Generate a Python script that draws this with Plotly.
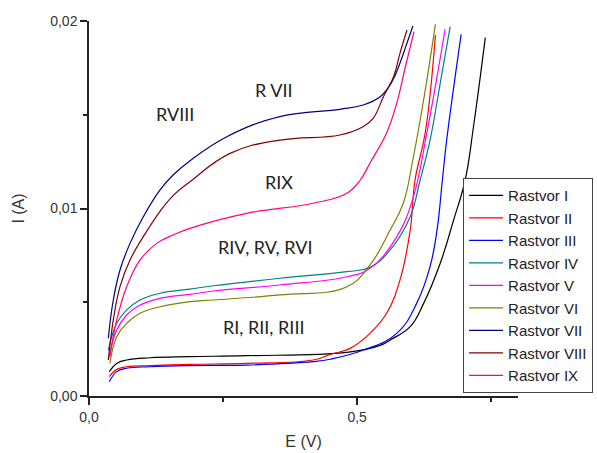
import plotly.graph_objects as go

# ---- data ----
E_I = [0.0379, 0.0517, 0.0703, 0.1138, 0.1884, 0.294, 0.481, 0.543, 0.5616, 0.599, 0.624, 0.655, 0.680, 0.7015, 0.717, 0.739]
I_I = [0.00130, 0.00174, 0.00192, 0.00204, 0.00210, 0.00215, 0.00233, 0.00270, 0.00299, 0.00370, 0.00494, 0.00708, 0.00939, 0.01152, 0.01436, 0.01911]

E_II = [0.0379, 0.0517, 0.0703, 0.1138, 0.1884, 0.294, 0.418, 0.450, 0.487, 0.524, 0.555, 0.580, 0.599, 0.608, 0.627, 0.646]
I_II = [0.00103, 0.00142, 0.00156, 0.00162, 0.00169, 0.00174, 0.00192, 0.00222, 0.00254, 0.00334, 0.00441, 0.00619, 0.00885, 0.01152, 0.01403, 0.01925]

E_III = [0.0379, 0.0517, 0.0703, 0.1138, 0.1884, 0.294, 0.418, 0.450, 0.512, 0.574, 0.611, 0.636, 0.649, 0.659, 0.667, 0.694]
I_III = [0.00076, 0.00130, 0.00148, 0.00156, 0.00162, 0.00165, 0.00183, 0.00196, 0.00245, 0.00334, 0.00494, 0.00690, 0.00885, 0.01152, 0.01365, 0.01929]

E_IV = [0.036, 0.0517, 0.0703, 0.0951, 0.1325, 0.1884, 0.232, 0.356, 0.481, 0.524, 0.5616, 0.599, 0.6175, 0.636, 0.655, 0.6735]
I_IV = [0.00245, 0.00388, 0.00459, 0.00512, 0.00548, 0.00570, 0.00588, 0.00628, 0.00663, 0.00686, 0.00779, 0.00956, 0.01152, 0.01365, 0.01669, 0.01970]

E_V = [0.036, 0.0517, 0.0703, 0.0951, 0.1325, 0.1884, 0.232, 0.356, 0.481, 0.524, 0.574, 0.605, 0.630, 0.649, 0.664]
I_V = [0.00192, 0.00352, 0.00432, 0.00485, 0.00521, 0.00542, 0.00560, 0.00592, 0.00636, 0.00681, 0.00850, 0.01063, 0.01403, 0.01703, 0.01956]

E_VI = [0.039, 0.0517, 0.0703, 0.0951, 0.1325, 0.1884, 0.232, 0.356, 0.481, 0.524, 0.5616, 0.586, 0.605, 0.624, 0.646]
I_VI = [0.00174, 0.00316, 0.00388, 0.00441, 0.00476, 0.00503, 0.00512, 0.00539, 0.00583, 0.00699, 0.00885, 0.01028, 0.01276, 0.01579, 0.01982]

E_VII = [0.036, 0.0453, 0.0578, 0.0765, 0.1013, 0.1325, 0.1573, 0.1884, 0.257, 0.356, 0.468, 0.511, 0.543, 0.565, 0.580, 0.593, 0.604]
I_VII = [0.00308, 0.00512, 0.00672, 0.00814, 0.00956, 0.01099, 0.01180, 0.01255, 0.01383, 0.01490, 0.01529, 0.01552, 0.01596, 0.01676, 0.01776, 0.01883, 0.01973]

E_VIII = [0.036, 0.0453, 0.0578, 0.0765, 0.1013, 0.1325, 0.1573, 0.1884, 0.263, 0.356, 0.468, 0.511, 0.530, 0.549, 0.568, 0.580, 0.593]
I_VIII = [0.00192, 0.00405, 0.00583, 0.00725, 0.00850, 0.00985, 0.01070, 0.01143, 0.01294, 0.01365, 0.01392, 0.01436, 0.01481, 0.01596, 0.01703, 0.01829, 0.01952]

E_IX = [0.039, 0.0517, 0.0703, 0.0951, 0.1263, 0.1573, 0.1884, 0.294, 0.418, 0.481, 0.506, 0.524, 0.555, 0.574, 0.590, 0.606]
I_IX = [0.00210, 0.00405, 0.00583, 0.00725, 0.00814, 0.00859, 0.00894, 0.00974, 0.01028, 0.01081, 0.01152, 0.01243, 0.01403, 0.01563, 0.01756, 0.01943]

series_names = ["Rastvor I", "Rastvor II", "Rastvor III", "Rastvor IV", "Rastvor V",
                "Rastvor VI", "Rastvor VII", "Rastvor VIII", "Rastvor IX"]
series_E = [E_I, E_II, E_III, E_IV, E_V, E_VI, E_VII, E_VIII, E_IX]
series_I = [I_I, I_II, I_III, I_IV, I_V, I_VI, I_VII, I_VIII, I_IX]
colors = ["#000000", "#ff0000", "#0000ff", "#008080", "#ff00ff",
          "#808000", "#000080", "#800000", "#ff0080"]

x_tickvals = [0.0, 0.5]
x_ticktext = ["0,0", "0,5"]
y_tickvals = [0.0, 0.01, 0.02]
y_ticktext = ["0,00", "0,01", "0,02"]

ann_texts = ["R VII", "RVIII", "RIX", "RIV, RV, RVI", "RI, RII, RIII"]
ann_E = [0.3457, 0.161, 0.354, 0.3289, 0.3252]
ann_I = [0.0163, 0.01502, 0.01141, 0.00796, 0.0037]

fig = go.Figure()
for name, ex, iy, c in zip(series_names, series_E, series_I, colors):
    fig.add_trace(go.Scatter(x=ex, y=iy, mode="lines", name=name,
                             line=dict(color=c, width=1.2, shape="spline", smoothing=1.2)))

for t, ex, iy in zip(ann_texts, ann_E, ann_I):
    fig.add_annotation(x=ex, y=iy, text=t, showarrow=False,
                       font=dict(family="Lato", size=18, color="#222222"))

axis_common = dict(showgrid=False, zeroline=False, showline=True, linecolor="#222222",
                   linewidth=1.5, ticks="outside", ticklen=7, tickwidth=1.5,
                   tickcolor="#222222", tickfont=dict(family="Liberation Sans", size=14, color="#333333"))

fig.update_xaxes(range=[0, 0.8], tickvals=x_tickvals, ticktext=x_ticktext,
                 title=dict(text="E (V)", font=dict(family="Liberation Sans", size=16, color="#333333"), standoff=12),
                 minor=dict(tickvals=[0.25, 0.75], ticks="outside", ticklen=4, tickwidth=1.5, tickcolor="#222222"),
                 **axis_common)
fig.update_yaxes(range=[0, 0.02], tickvals=y_tickvals, ticktext=y_ticktext,
                 title=dict(text="I (A)", font=dict(family="Liberation Sans", size=16, color="#333333"), standoff=22),
                 minor=dict(tickvals=[0.005, 0.015], ticks="outside", ticklen=4, tickwidth=1.5, tickcolor="#222222"),
                 **axis_common)

fig.update_layout(
    width=597, height=453,
    margin=dict(l=89, r=79, t=21, b=57, autoexpand=False),
    plot_bgcolor="white", paper_bgcolor="white",
    legend=dict(x=0.872, y=0.581, xanchor="left", yanchor="top",
                bgcolor="white", bordercolor="#444444", borderwidth=1,
                font=dict(family="Liberation Sans", size=15, color="#222222"),
                tracegroupgap=0, itemwidth=34),
)

fig.write_html("out.html", config={"displayModeBar": False},
               post_script="document.body.style.margin='0px';")
